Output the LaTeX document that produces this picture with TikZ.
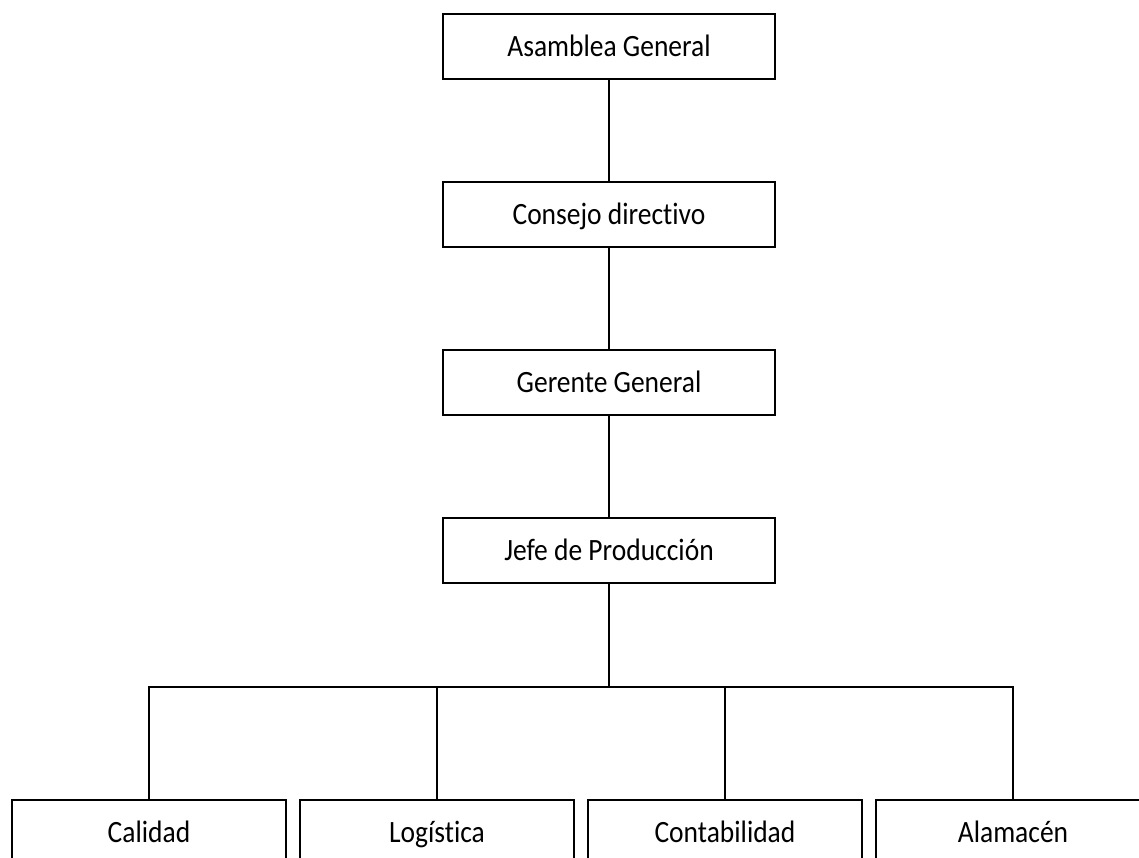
\documentclass[tikz,border=0pt]{standalone}
\usepackage{fontspec}
\setmainfont{Carlito}[Ligatures=NoCommon]
% narrow setting of the labels
\newcommand{\lbl}[1]{\scalebox{0.887}[1]{#1}}
\begin{document}
\begin{tikzpicture}[x=1pt,y=1pt,
  unit/.style={draw=black, line width=1.3pt, fill=white, inner sep=0pt,
    minimum height=65pt, text height=20pt, text depth=0pt,
    font=\fontsize{31}{36}\selectfont},
  topunit/.style={unit, minimum width=332pt},
  subunit/.style={unit, minimum width=274pt},
  link/.style={line width=1.3pt}]
\useasboundingbox (0,0) rectangle (1139,-857);
\clip (0,0) rectangle (1139,-857);
\fill[white] (0,0) rectangle (1139,-857);

% chain of command
\node[topunit] (asamblea) at (609,-46.5) {\lbl{Asamblea General}};
\node[topunit] (consejo)  at (609,-214.5) {\lbl{Consejo directivo}};
\node[topunit] (gerente)  at (609,-382.5) {\lbl{Gerente General}};
\node[topunit] (jefe)     at (609,-550.5) {\lbl{Jefe de Producción}};

% departments
\node[subunit] (calidad)   at (149,-832.5) {\lbl{Calidad}};
\node[subunit] (logistica) at (437,-832.5) {\lbl{Logística}};
\node[subunit] (conta)     at (725,-832.5) {\lbl{Contabilidad}};
\node[subunit] (almacen)   at (1013,-832.5) {\lbl{Alamacén}};

\coordinate (bus) at (609,-687);

\draw[link] (asamblea.south) -- (consejo.north);
\draw[link] (consejo.south) -- (gerente.north);
\draw[link] (gerente.south) -- (jefe.north);
\draw[link] (jefe.south) -- (bus);
\draw[link] (calidad.north) -- (calidad.north |- bus) -- (almacen.north |- bus) -- (almacen.north);
\draw[link] (logistica.north) -- (logistica.north |- bus);
\draw[link] (conta.north) -- (conta.north |- bus);
\end{tikzpicture}
\end{document}
